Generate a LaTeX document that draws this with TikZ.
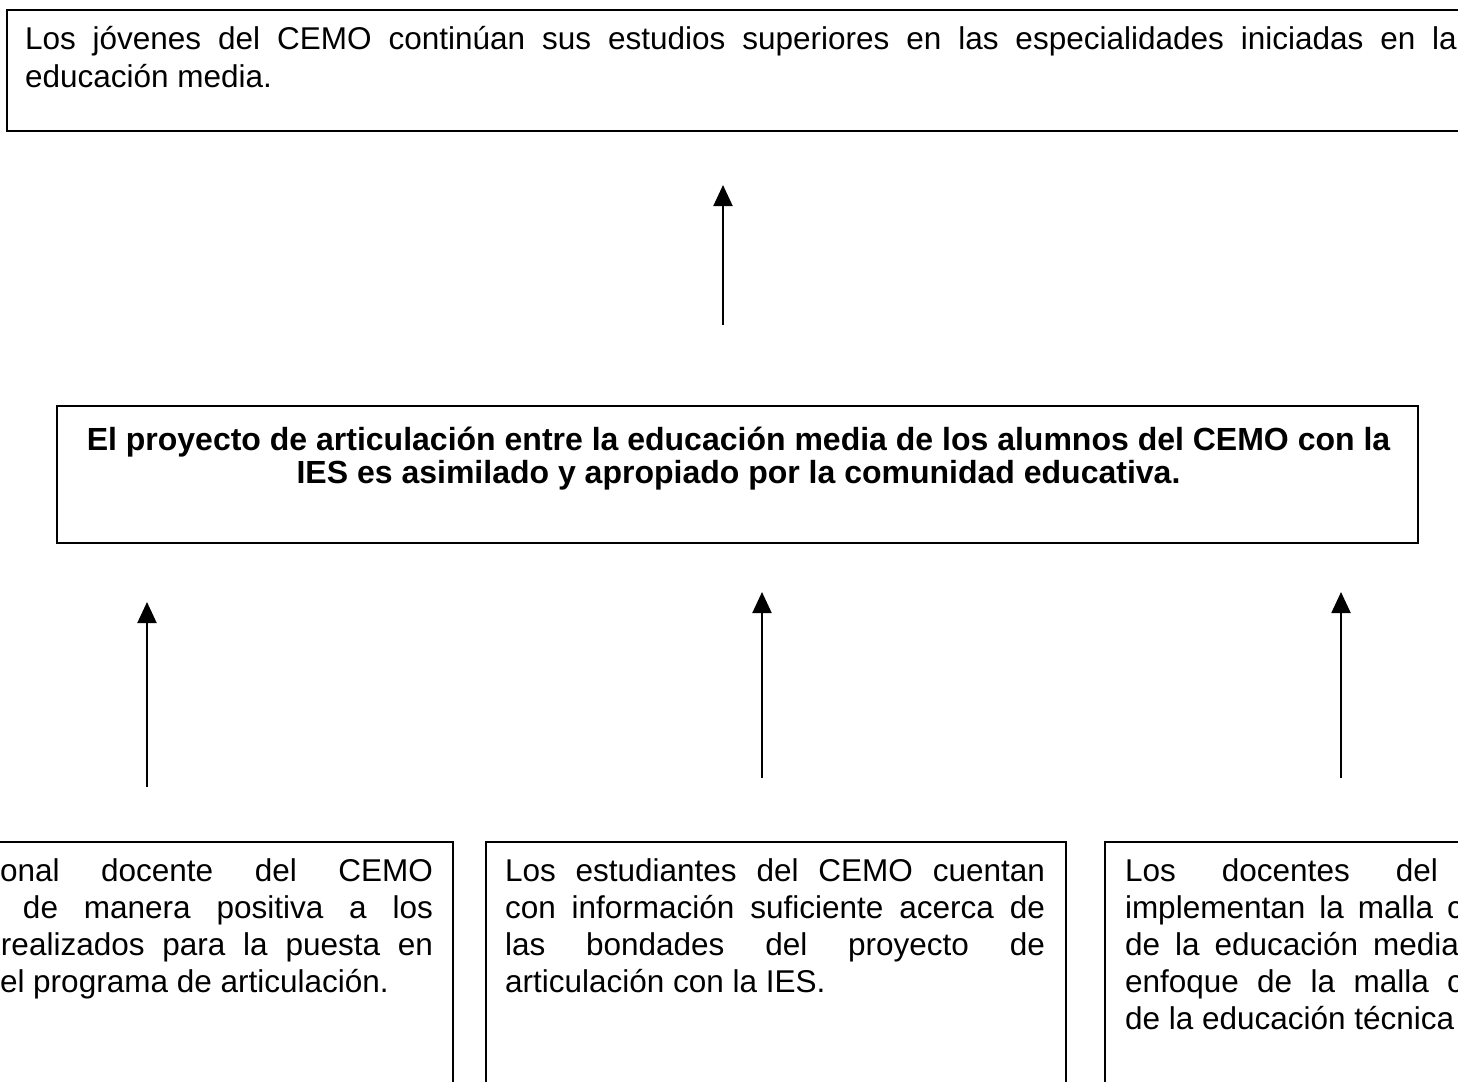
\documentclass[tikz,border=0pt]{standalone}
\usepackage{fontspec}
\setmainfont{Liberation Sans}
\usetikzlibrary{arrows.meta}
\newcommand{\jl}[2]{\makebox[#1pt][s]{#2}}
\tikzset{
  box/.style={draw=black, line width=1.5pt, inner sep=0pt, outer sep=0pt},
  txt/.style={inner sep=0pt, outer sep=0pt, anchor=base west, font=\fontsize{31.5pt}{37pt}\selectfont},
  up/.style={line width=2pt, -{Triangle[length=21pt,width=19pt]}}
}
\begin{document}
\begin{tikzpicture}[x=1pt,y=-1pt]
\useasboundingbox (0,0) rectangle (1458,1081);
\clip (0,0) rectangle (1458,1081);
% boxes
\node[box, line width=2pt, minimum width=1463pt, minimum height=121pt] (goal) at (738.5,70.5) {};
\node[box, minimum width=1361pt, minimum height=137pt] (purpose) at (737.5,474.5) {};
\node[box, minimum width=583pt, minimum height=258pt] (resA) at (161.5,971) {};
\node[box, minimum width=580pt, minimum height=258pt] (resB) at (776,971) {};
\node[box, minimum width=585pt, minimum height=258pt] (resC) at (1397.5,971) {};
% texts
\node[txt] (goaltext) at (25,50) {\parbox[t]{1500pt}{\raggedright
  \jl{1432}{Los jóvenes del CEMO continúan sus estudios superiores en las especialidades iniciadas en la}\\
  educación media.}};
\node[txt, anchor=base, font=\bfseries\fontsize{32pt}{33.5pt}\selectfont] (purposetext) at (738.5,450) {\parbox[t]{1360pt}{\centering
  El proyecto de articulación entre la educación media de los alumnos del CEMO con la\\
  IES es asimilado y apropiado por la comunidad educativa.}};
\node[txt] (resAtext) at (0,881) {\parbox[t]{600pt}{\raggedright
  \jl{433}{onal docente del CEMO}\\
  \hspace*{23pt}\jl{410}{de manera positiva a los}\\
  \hspace*{1pt}\jl{432}{realizados para la puesta en}\\
  el programa de articulación.}};
\node[txt] (resBtext) at (505,881) {\parbox[t]{600pt}{\raggedright
  \jl{540}{Los estudiantes del CEMO cuentan}\\
  \jl{540}{con información suficiente acerca de}\\
  \jl{540}{las bondades del proyecto de}\\
  articulación con la IES.}};
\node[txt] (resCtext) at (1125,881) {\parbox[t]{600pt}{\raggedright
  \jl{313}{Los docentes del}\\
  \jl{338}{implementan la malla c}\\
  \jl{334}{de la educación media}\\
  \jl{338}{enfoque de la malla c}\\
  de la educación técnica}};
% arrows
\coordinate (p0s) at (723,325);  \coordinate (p0e) at (723,185);
\coordinate (pAs) at (147,787);  \coordinate (pAe) at (147,602);
\coordinate (pBs) at (762,778);  \coordinate (pBe) at (762,592);
\coordinate (pCs) at (1341,778); \coordinate (pCe) at (1341,592);
\draw[up] (p0s) -- (p0e);
\draw[up] (pAs) -- (pAe);
\draw[up] (pBs) -- (pBe);
\draw[up] (pCs) -- (pCe);
\end{tikzpicture}
\end{document}
